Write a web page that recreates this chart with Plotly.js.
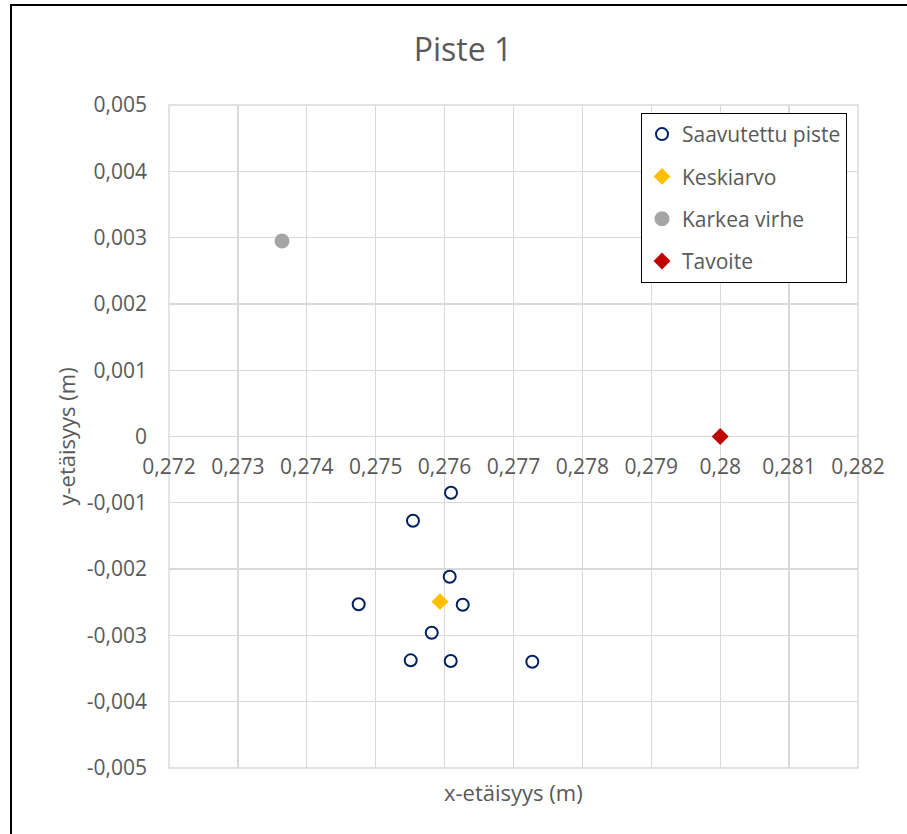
<!DOCTYPE html>
<html>
<head>
<meta charset="utf-8">
<script src="https://cdn.plot.ly/plotly-3.0.1.min.js"></script>
<style>
html,body{margin:0;padding:0;background:#fff;}
#chart{width:907px;height:834px;}
</style>
</head>
<body>
<div id="chart"></div>
<script>
// Data
const reachedX = [0.276093, 0.275541, 0.276074, 0.274753, 0.276263, 0.275813, 0.275508, 0.276089, 0.277273];
const reachedY = [-0.000848, -0.001270, -0.002115, -0.002531, -0.002537, -0.002959, -0.003376, -0.003386, -0.003397];
const meanX = [0.275934];
const meanY = [-0.002491];
const grossX = [0.27364];
const grossY = [0.002949];
const targetX = [0.28];
const targetY = [0];

const seriesNames = ["Saavutettu piste", "Keskiarvo", "Karkea virhe", "Tavoite"];

const xTickVals = [0.272, 0.273, 0.274, 0.275, 0.276, 0.277, 0.278, 0.279, 0.28, 0.281, 0.282];
const xTickLabels = ["0,272", "0,273", "0,274", "0,275", "0,276", "0,277", "0,278", "0,279", "0,28", "0,281", "0,282"];
const yTickVals = [0.005, 0.004, 0.003, 0.002, 0.001, 0, -0.001, -0.002, -0.003, -0.004, -0.005];
const yTickLabels = ["0,005", "0,004", "0,003", "0,002", "0,001", "0", "-0,001", "-0,002", "-0,003", "-0,004", "-0,005"];

const FONT = "Open Sans, Noto Sans, sans-serif";
const TXT = "#595959";
const GRID = "#d9d9d9";

const traces = [
  {x: reachedX, y: reachedY, name: seriesNames[0], legendgroup: "a", type: "scatter", mode: "markers",
   marker: {symbol: "circle-open", size: 12, color: "#002060", line: {width: 2, color: "#002060"}}},
  {x: meanX, y: meanY, name: seriesNames[1], legendgroup: "b", type: "scatter", mode: "markers",
   marker: {symbol: "diamond", size: 13, color: "#FFC000"}},
  {x: grossX, y: grossY, name: seriesNames[2], legendgroup: "c", type: "scatter", mode: "markers",
   marker: {symbol: "circle", size: 15, color: "#A5A5A5"}},
  {x: targetX, y: targetY, name: seriesNames[3], legendgroup: "d", type: "scatter", mode: "markers",
   marker: {symbol: "diamond", size: 13, color: "#C00000"}}
];

const layout = {
  width: 907, height: 834,
  margin: {l: 169, r: 49, t: 105, b: 66},
  paper_bgcolor: "#fff", plot_bgcolor: "#fff",
  font: {family: FONT, color: TXT, size: 21},
  title: {text: "Piste 1", font: {family: FONT, size: 32, color: TXT}, x: 463/907, xanchor: "center", xref: "container",
          y: 1 - 50/834, yanchor: "middle", yref: "container"},
  showlegend: true,
  legend: {x: (641-169)/689, y: 0.988, xanchor: "left", yanchor: "top", bgcolor: "#fff", bordercolor: "#000", borderwidth: 1,
           font: {family: FONT, size: 21, color: TXT}, traceorder: "grouped", tracegroupgap: 12},
  xaxis: {range: [0.272, 0.282], tickmode: "array", tickvals: xTickVals, ticktext: xTickLabels,
          anchor: "free", position: 0.5, showgrid: true, gridcolor: GRID, gridwidth: 1.4,
          zeroline: false, showline: false, ticks: "", ticklabelstandoff: 15,
          tickfont: {family: FONT, size: 21, color: TXT}, fixedrange: true},
  yaxis: {range: [-0.005, 0.005], tickmode: "array", tickvals: yTickVals, ticktext: yTickLabels,
          showgrid: true, gridcolor: GRID, gridwidth: 1.4, zeroline: false, showline: false, ticks: "",
          ticklabelstandoff: 21, tickfont: {family: FONT, size: 21, color: TXT}, fixedrange: true},
  annotations: [
    {text: "x-etäisyys (m)", xref: "paper", yref: "paper", x: 0.5, y: (768-792)/663, xanchor: "center", yanchor: "middle",
     showarrow: false, font: {family: FONT, size: 22, color: TXT}},
    {text: "y-etäisyys (m)", xref: "paper", yref: "paper", x: (65-169)/689, y: 0.5, xanchor: "center", yanchor: "middle",
     textangle: -90, showarrow: false, font: {family: FONT, size: 22, color: TXT}}
  ],
  shapes: [
    {type: "rect", xref: "paper", yref: "paper", x0: 0, x1: 1, y0: 0, y1: 1,
     line: {color: GRID, width: 1.4}, fillcolor: "rgba(0,0,0,0)", layer: "below"},
    {type: "rect", xref: "paper", yref: "paper", x0: (11-169)/689, x1: 1.3, y0: -0.3, y1: (768-5)/663,
     line: {color: "#000", width: 2}, fillcolor: "rgba(0,0,0,0)", layer: "below"}
  ]
};

Plotly.newPlot("chart", traces, layout, {staticPlot: true, displayModeBar: false});
</script>
</body>
</html>
